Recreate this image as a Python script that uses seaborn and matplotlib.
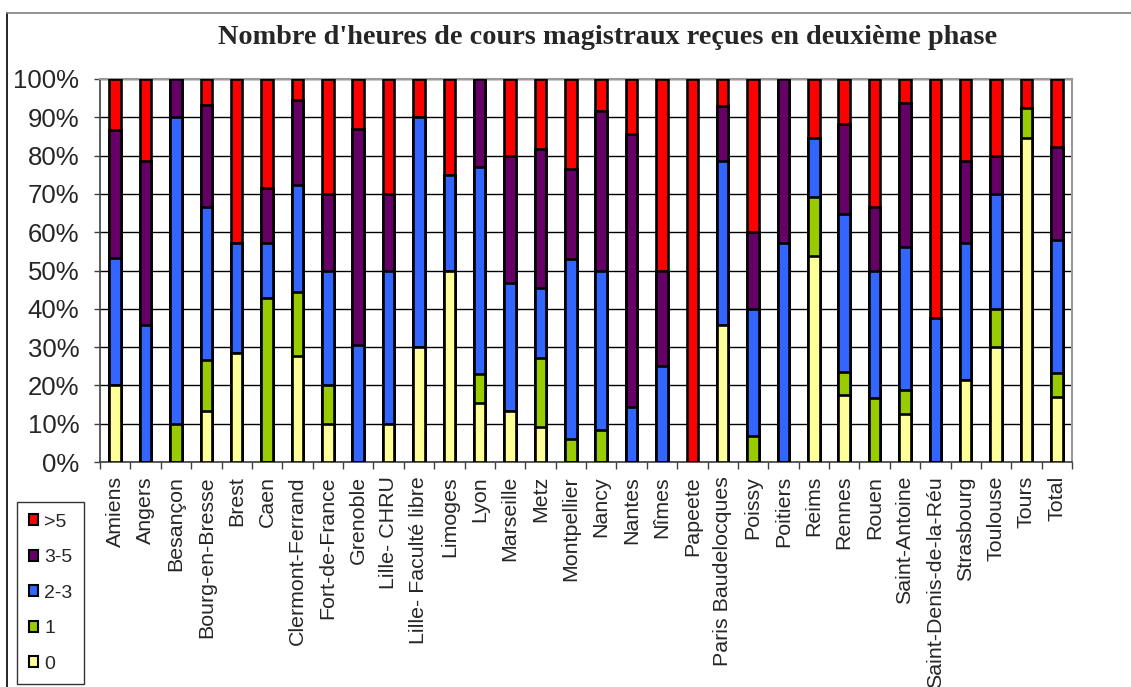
import numpy as np
import pandas as pd
import matplotlib
matplotlib.use("Agg")
import matplotlib.pyplot as plt
import seaborn as sns
from matplotlib.ticker import FixedLocator, PercentFormatter
from matplotlib.patches import Patch
from matplotlib.lines import Line2D

categories = ["Amiens", "Angers", "Besançon", "Bourg-en-Bresse", "Brest", "Caen",
              "Clermont-Ferrand", "Fort-de-France", "Grenoble", "Lille- CHRU",
              "Lille- Faculté libre", "Limoges", "Lyon", "Marseille", "Metz",
              "Montpellier", "Nancy", "Nantes", "Nîmes", "Papeete", "Paris Baudelocques",
              "Poissy", "Poitiers", "Reims", "Rennes", "Rouen", "Saint-Antoine",
              "Saint-Denis-de-la-Réu", "Strasbourg", "Toulouse", "Tours", "Total"]

s0 = [20.0, 0, 0, 13.3, 28.6, 0, 27.8, 10, 0, 10, 30, 50, 15.4, 13.3, 9.1,
      0, 0, 0, 0, 0, 35.7, 0, 0, 53.8, 17.6, 0, 12.5, 0, 21.4, 30, 84.6, 16.9]
s1 = [0, 0, 10, 13.3, 0, 42.9, 16.7, 10, 0, 0, 0, 0, 7.7, 0, 18.2,
      5.9, 8.3, 0, 0, 0, 0, 6.7, 0, 15.4, 5.9, 16.7, 6.3, 0, 0, 10, 7.7, 6.3]
s23 = [33.3, 35.7, 80, 40, 28.6, 14.3, 27.8, 30, 30.4, 40, 60, 25, 53.8, 33.3, 18.2,
       47.1, 41.7, 14.3, 25, 0, 42.9, 33.3, 57.1, 15.4, 41.2, 33.3, 37.5, 37.5, 35.7, 30, 0, 34.8]
s35 = [33.3, 42.9, 10, 26.7, 0, 14.3, 22.2, 20, 56.5, 20, 0, 0, 23.1, 33.3, 36.4,
       23.5, 41.7, 71.4, 25, 0, 14.3, 20, 42.9, 0, 23.5, 16.7, 37.5, 0, 21.4, 10, 0, 24.2]
s5 = [13.3, 21.4, 0, 6.7, 42.9, 28.6, 5.6, 30, 13.0, 30, 10, 25, 0, 20, 18.2,
      23.5, 8.3, 14.3, 50, 100, 7.1, 40, 0, 15.4, 11.8, 33.3, 6.3, 62.5, 21.4, 20, 7.7, 17.8]

series_names = ["0", "1", "2-3", "3-5", ">5"]
series_colors = ["#FFFF99", "#99CC00", "#3366FF", "#660066", "#FF0000"]
series_vals = [s0, s1, s23, s35, s5]

title = "Nombre d'heures de cours magistraux reçues en deuxième phase"

# normalise and cumulate
arr = np.array(series_vals, dtype=float)
arr = arr / arr.sum(axis=0) * 100
cum = np.cumsum(arr, axis=0)

sns.set_theme(style="white")
plt.rcParams["font.family"] = ["Liberation Sans", "DejaVu Sans"]

W, H = 1131, 687
fig = plt.figure(figsize=(W / 100, H / 100), dpi=100)
fig.patch.set_facecolor("white")
ax = fig.add_axes([100 / W, 1 - 462 / H, (1072 - 100) / W, (462 - 79) / H])

for i in range(len(series_names) - 1, -1, -1):
    df = pd.DataFrame({"cat": categories, "val": cum[i]})
    sns.barplot(data=df, x="cat", y="val", order=categories, color=series_colors[i],
                saturation=1, width=0.38, edgecolor="black", linewidth=1.9,
                errorbar=None, ax=ax, zorder=3)

n = len(categories)
ax.set_xlim(-0.5, n - 0.5)
ax.set_ylim(0, 100)
ax.set_xlabel("")
ax.set_ylabel("")
ax.yaxis.set_major_locator(FixedLocator(np.arange(0, 101, 10)))
ax.yaxis.set_major_formatter(PercentFormatter(decimals=0))
ax.grid(axis="y", color="black", linewidth=1.0, zorder=0)
ax.grid(axis="x", visible=False)
ax.set_axisbelow(True)

ax.tick_params(axis="y", direction="out", length=4, width=1, color="#404040",
               labelsize=18.5, pad=11, left=True)
ax.set_xticks(np.arange(n))
ax.set_xticklabels(categories, rotation=90, fontsize=15.4)
ax.tick_params(axis="x", which="major", length=0, pad=10)
ax.xaxis.set_minor_locator(FixedLocator(np.arange(n + 1) - 0.5))
ax.tick_params(axis="x", which="minor", direction="out", length=5, width=1,
               color="#404040", bottom=True)

for side in ["left", "bottom"]:
    ax.spines[side].set_color("#404040")
    ax.spines[side].set_linewidth(1.2)
for side in ["top", "right"]:
    ax.spines[side].set_color("#999999")
    ax.spines[side].set_linewidth(1.5)

fig.text(608 / W, 1 - 38 / H, title, ha="center", va="center",
         fontsize=20.3, fontweight="bold", family=["Liberation Serif", "DejaVu Serif"])

# outer chart border (cropped)
fig.add_artist(Line2D([7 / W, 7 / W], [0, 1 - 13 / H], transform=fig.transFigure,
                      color="black", linewidth=1.2))
fig.add_artist(Line2D([7 / W, 1], [1 - 13 / H, 1 - 13 / H], transform=fig.transFigure,
                      color="#808080", linewidth=1.2))

handles = [Patch(facecolor=series_colors[i], edgecolor="black", linewidth=1.5,
                 label=series_names[i]) for i in range(len(series_names) - 1, -1, -1)]
leg = fig.legend(handles=handles, loc="upper left",
                 bbox_to_anchor=(17 / W, 1 - 502 / H), bbox_transform=fig.transFigure,
                 borderaxespad=0, fontsize=14, frameon=True, fancybox=False,
                 handlelength=0.5, handleheight=0.5, handletextpad=0.3,
                 labelspacing=0.95, borderpad=0.6)
leg.get_frame().set_edgecolor("black")
leg.get_frame().set_linewidth(1.0)

fig.savefig("out.png", dpi=100, facecolor="white")
